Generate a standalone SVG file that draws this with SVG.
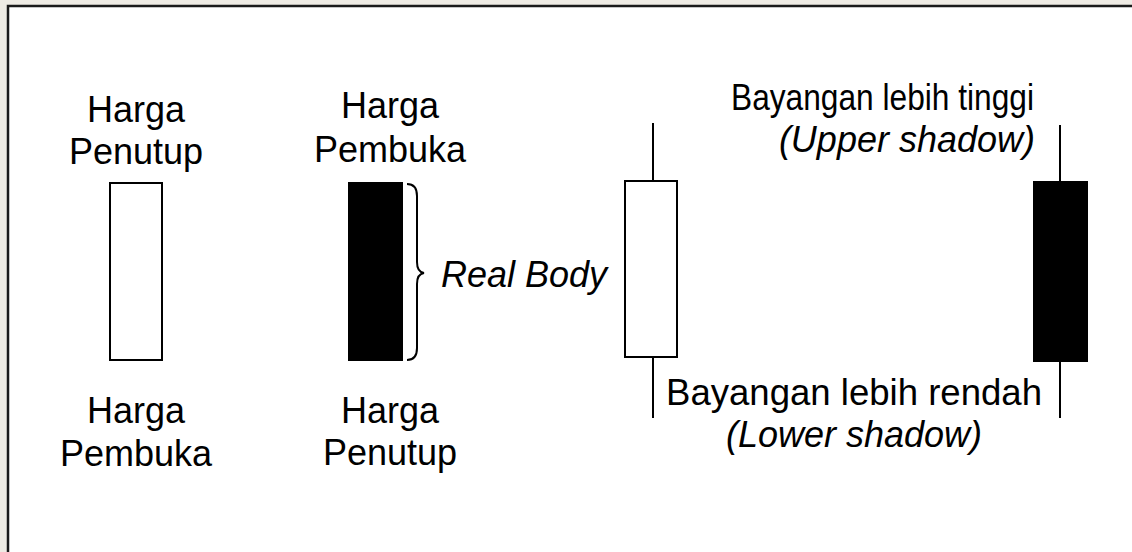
<svg xmlns="http://www.w3.org/2000/svg" width="1132" height="552" viewBox="0 0 1132 552">
<style>
.t{font-family:"Liberation Sans",Arial,sans-serif;font-size:36px;fill:#000}
.i{font-style:italic}
.body{stroke:#000;stroke-width:2}
.wick{stroke:#000;stroke-width:2;fill:none}
</style>
<rect x="0" y="0" width="1132" height="552" fill="#eeebe4"/>
<rect x="8" y="6" width="1200" height="600" fill="#ffffff" stroke="#1a1a1a" stroke-width="2.5"/>
<g id="candle-bullish">
  <text class="t" x="136" y="122" text-anchor="middle">Harga</text>
  <text class="t" x="136" y="164" text-anchor="middle">Penutup</text>
  <rect class="body" x="110" y="183" width="52" height="177" fill="#fff"/>
  <text class="t" x="136" y="423" text-anchor="middle">Harga</text>
  <text class="t" x="136" y="466" text-anchor="middle">Pembuka</text>
</g>
<g id="candle-bearish">
  <text class="t" x="390" y="118" text-anchor="middle">Harga</text>
  <text class="t" x="390" y="162" text-anchor="middle">Pembuka</text>
  <rect class="body" x="349" y="183" width="53" height="177" fill="#000"/>
  <text class="t" x="390" y="423" text-anchor="middle">Harga</text>
  <text class="t" x="390" y="465" text-anchor="middle">Penutup</text>
</g>
<g id="connectors">
  <path class="wick" stroke-width="1.8" d="M407,184 Q417,184 417,196 L417,262 Q417,272 424,273 Q417,274 417,284 L417,348 Q417,360 407,360"/>
  <text class="t i" x="441" y="287">Real Body</text>
</g>
<g id="candle-shadow-white">
  <line class="wick" x1="653" y1="123" x2="653" y2="181"/>
  <rect class="body" x="625" y="181" width="52" height="176" fill="#fff"/>
  <line class="wick" x1="653" y1="357" x2="653" y2="418"/>
</g>
<g id="candle-shadow-black">
  <line class="wick" x1="1060" y1="125" x2="1060" y2="182"/>
  <rect class="body" x="1034" y="182" width="53" height="179" fill="#000"/>
  <line class="wick" x1="1060" y1="361" x2="1060" y2="418"/>
</g>
<g id="label-upper">
  <text class="t" x="731" y="110" textLength="303" lengthAdjust="spacingAndGlyphs">Bayangan lebih tinggi</text>
  <text class="t i" x="1035" y="152" text-anchor="end">(Upper shadow)</text>
</g>
<g id="label-lower">
  <text class="t" x="666" y="405" textLength="376" lengthAdjust="spacingAndGlyphs">Bayangan lebih rendah</text>
  <text class="t i" x="854" y="447" text-anchor="middle">(Lower shadow)</text>
</g>
</svg>
